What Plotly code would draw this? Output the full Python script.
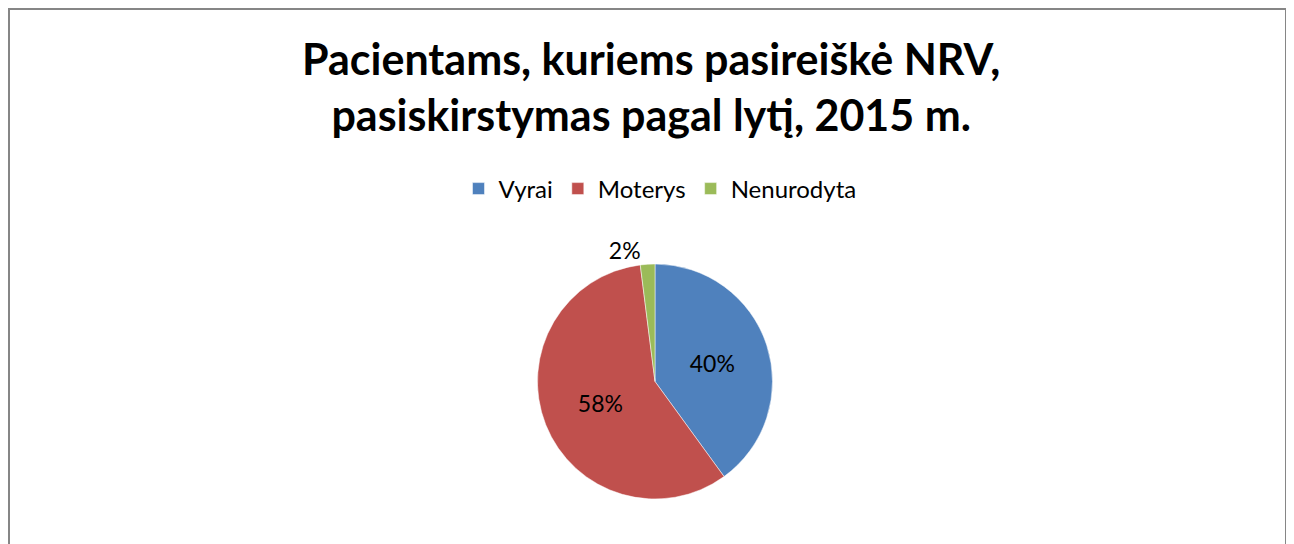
import plotly.graph_objects as go

labels = ["Vyrai", "Moterys", "Nenurodyta"]
values = [40, 58, 2]
colors = ["#4F81BD", "#C0504D", "#9BBB59"]
text_positions = ["inside", "inside", "outside"]
title_text = "Pacientams, kuriems pasireiškė NRV,<br>pasiskirstymas pagal lytį, 2015 m."

# The page body adds an 8px margin, so the figure is 8px smaller than the window
W, H = 1286, 536
font_family = "Lato, 'Open Sans', sans-serif"

fig = go.Figure(go.Pie(
    labels=labels,
    values=values,
    sort=False,
    direction="clockwise",
    rotation=0,
    marker=dict(colors=colors, line=dict(color="white", width=0.5)),
    texttemplate="%{percent:.0%}",
    textposition=text_positions,
    insidetextorientation="horizontal",
    textfont=dict(family=font_family, size=23, color="black"),
    domain=dict(x=[529 / W, 765 / W], y=[(H - 491) / H, (H - 256) / H]),
    showlegend=True,
    hoverinfo="label+percent",
))

fig.update_layout(
    width=W, height=H,
    margin=dict(l=0, r=0, t=0, b=0),
    paper_bgcolor="white",
    plot_bgcolor="white",
    annotations=[dict(
        text=title_text,
        xref="paper", yref="paper",
        x=0.5, xanchor="center",
        y=1 - 78 / H, yanchor="middle",
        showarrow=False,
        align="center",
        font=dict(family=font_family, size=43, color="black", weight="bold"),
    )],
    legend=dict(
        orientation="h",
        x=652 / W, xanchor="center",
        y=1 - 181 / H, yanchor="middle",
        font=dict(family=font_family, size=24, color="black"),
        traceorder="normal",
    ),
    shapes=[dict(
        type="rect", xref="paper", yref="paper",
        x0=1 / W, x1=1278 / W, y0=-0.05, y1=1 - 1 / H,
        line=dict(color="#868686", width=2),
        fillcolor="rgba(0,0,0,0)",
        layer="below",
    )],
)

fig.write_html("out.html")
